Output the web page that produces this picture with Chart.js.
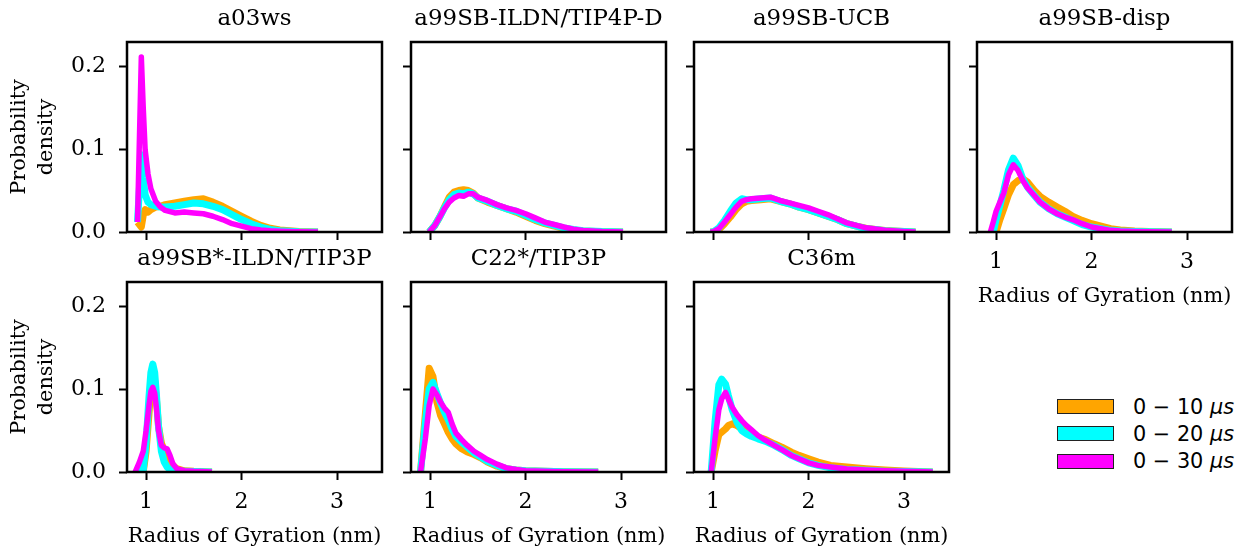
<!DOCTYPE html>
<html>
<head>
<meta charset="utf-8">
<script src="https://cdn.jsdelivr.net/npm/chart.js@4.4.1/dist/chart.umd.min.js"></script>
<style>
  html, body { margin: 0; padding: 0; background: #fff; overflow: hidden; }
  #fig { position: relative; width: 1241px; height: 550px; }
  #fig canvas { position: absolute; }
  #legend { position: absolute; left: 1057px; top: 393px; font-family: 'DejaVu Sans', sans-serif; font-size: 20.8px; color: #000; }
  #legend .row { display: flex; align-items: center; height: 27.3px; }
  #legend .sw { width: 55px; height: 13px; border: 1px solid #222; margin-right: 19px; }
</style>
</head>
<body>
<div id="fig">
  <canvas id="p0"></canvas>
  <canvas id="p1"></canvas>
  <canvas id="p2"></canvas>
  <canvas id="p3"></canvas>
  <canvas id="p4"></canvas>
  <canvas id="p5"></canvas>
  <canvas id="p6"></canvas>
  <div id="legend">
    <div class="row"><div class="sw" style="background:#ffa500"></div><span>0 − 10 <i>μs</i></span></div>
    <div class="row"><div class="sw" style="background:#00ffff"></div><span>0 − 20 <i>μs</i></span></div>
    <div class="row"><div class="sw" style="background:#ff00ff"></div><span>0 − 30 <i>μs</i></span></div>
  </div>
</div>
<script>
'use strict';

/* --------------------------------------------------------------------------
   DATA  (radius of gyration in nm, probability density)
   -------------------------------------------------------------------------- */
const seriesLabels = ['0 − 10 μs', '0 − 20 μs', '0 − 30 μs'];
const xTicks = [1, 2, 3];
const yTicks = [0, 0.1, 0.2];

// a03ws
const a03wsX   = [0.91, 0.95, 0.97, 0.99, 1.02, 1.05, 1.1, 1.15, 1.2, 1.3, 1.4, 1.5, 1.6, 1.7, 1.8, 1.9, 2.0, 2.1, 2.2, 2.3, 2.4, 2.6, 2.8];
const a03ws10  = [0.012, 0.006, 0.020, 0.027, 0.024, 0.027, 0.030, 0.031, 0.033, 0.035, 0.037, 0.039, 0.040, 0.036, 0.031, 0.025, 0.019, 0.013, 0.008, 0.0045, 0.0025, 0.0006, 0];
const a03ws20  = [0.012, 0.093, 0.065, 0.045, 0.036, 0.033, 0.031, 0.030, 0.030, 0.031, 0.033, 0.035, 0.034, 0.031, 0.027, 0.021, 0.015, 0.010, 0.006, 0.003, 0.0015, 0.0003, 0];
const a03ws30  = [0.012, 0.211, 0.150, 0.099, 0.070, 0.052, 0.037, 0.030, 0.026, 0.023, 0.024, 0.023, 0.022, 0.019, 0.015, 0.010, 0.007, 0.004, 0.0025, 0.0015, 0.001, 0.0003, 0];

// a99SB-ILDN/TIP4P-D
const tip4pdX  = [0.99, 1.05, 1.1, 1.15, 1.2, 1.25, 1.3, 1.35, 1.4, 1.45, 1.5, 1.6, 1.7, 1.8, 1.9, 2.0, 2.1, 2.2, 2.3, 2.4, 2.5, 2.6, 2.8, 3.02];
const tip4pd10 = [0, 0.008, 0.018, 0.030, 0.042, 0.048, 0.050, 0.051, 0.050, 0.047, 0.041, 0.036, 0.032, 0.028, 0.024, 0.019, 0.014, 0.010, 0.007, 0.0045, 0.0025, 0.0012, 0.0004, 0];
const tip4pd20 = [0, 0.008, 0.018, 0.029, 0.039, 0.045, 0.047, 0.046, 0.048, 0.046, 0.041, 0.037, 0.032, 0.028, 0.025, 0.020, 0.015, 0.011, 0.008, 0.005, 0.003, 0.0015, 0.0005, 0];
const tip4pd30 = [0, 0.008, 0.018, 0.028, 0.036, 0.041, 0.044, 0.043, 0.046, 0.046, 0.042, 0.038, 0.033, 0.029, 0.026, 0.022, 0.017, 0.012, 0.009, 0.006, 0.0035, 0.0018, 0.0006, 0];

// a99SB-UCB
const ucbX     = [0.97, 1.0, 1.06, 1.12, 1.18, 1.24, 1.3, 1.35, 1.4, 1.5, 1.6, 1.7, 1.8, 1.9, 2.0, 2.1, 2.2, 2.3, 2.4, 2.5, 2.6, 2.7, 2.8, 3.0, 3.12];
const ucb10    = [0, 0, 0.003, 0.010, 0.018, 0.027, 0.034, 0.037, 0.038, 0.039, 0.040, 0.037, 0.034, 0.030, 0.027, 0.023, 0.019, 0.015, 0.010, 0.007, 0.0045, 0.003, 0.0018, 0.0006, 0];
const ucb20    = [0, 0, 0.005, 0.014, 0.025, 0.035, 0.040, 0.039, 0.039, 0.040, 0.041, 0.037, 0.034, 0.030, 0.027, 0.023, 0.019, 0.015, 0.010, 0.007, 0.004, 0.003, 0.0015, 0.0005, 0];
const ucb30    = [0, 0, 0.004, 0.012, 0.021, 0.030, 0.037, 0.039, 0.040, 0.041, 0.042, 0.038, 0.035, 0.032, 0.029, 0.025, 0.021, 0.016, 0.011, 0.008, 0.005, 0.0035, 0.002, 0.0007, 0];

// a99SB-disp
const dispX    = [0.94, 0.97, 1.0, 1.04, 1.08, 1.13, 1.18, 1.23, 1.28, 1.33, 1.4, 1.46, 1.55, 1.64, 1.72, 1.8, 1.9, 2.0, 2.1, 2.2, 2.3, 2.45, 2.6, 2.84];
const disp10   = [0, 0, 0, 0.015, 0.028, 0.045, 0.057, 0.062, 0.064, 0.060, 0.050, 0.043, 0.036, 0.030, 0.025, 0.019, 0.014, 0.010, 0.007, 0.004, 0.0025, 0.0012, 0.0005, 0];
const disp20   = [0, 0, 0.015, 0.032, 0.050, 0.075, 0.089, 0.080, 0.064, 0.054, 0.044, 0.036, 0.028, 0.022, 0.018, 0.014, 0.009, 0.006, 0.004, 0.002, 0.0012, 0.0006, 0.0002, 0];
const disp30   = [0, 0.012, 0.025, 0.036, 0.047, 0.069, 0.081, 0.074, 0.062, 0.053, 0.044, 0.036, 0.028, 0.022, 0.018, 0.015, 0.010, 0.006, 0.004, 0.002, 0.0012, 0.0006, 0.0003, 0];

// a99SB*-ILDN/TIP3P
const tip3pX   = [0.885, 0.93, 0.97, 1.0, 1.03, 1.05, 1.07, 1.09, 1.11, 1.13, 1.16, 1.19, 1.22, 1.25, 1.28, 1.32, 1.4, 1.5, 1.69];
const tip3p10  = [0, 0, 0, 0.025, 0.070, 0.100, 0.118, 0.110, 0.085, 0.055, 0.035, 0.026, 0.020, 0.013, 0.008, 0.004, 0.0015, 0.0008, 0];
const tip3p20  = [0, 0, 0.002, 0.035, 0.090, 0.120, 0.130, 0.120, 0.090, 0.055, 0.025, 0.012, 0.006, 0.003, 0.0015, 0.001, 0.0008, 0.0005, 0];
const tip3p30  = [0, 0.012, 0.025, 0.050, 0.080, 0.097, 0.102, 0.095, 0.075, 0.050, 0.032, 0.029, 0.028, 0.020, 0.010, 0.004, 0.0015, 0.0008, 0];

// C22*/TIP3P
const c22X     = [0.90, 0.95, 0.99, 1.03, 1.07, 1.11, 1.15, 1.19, 1.23, 1.27, 1.33, 1.39, 1.46, 1.53, 1.6, 1.7, 1.8, 1.9, 2.0, 2.2, 2.4, 2.76];
const c22_10   = [0, 0.070, 0.125, 0.115, 0.085, 0.068, 0.058, 0.048, 0.040, 0.034, 0.028, 0.024, 0.021, 0.017, 0.012, 0.007, 0.004, 0.0025, 0.0015, 0.0008, 0.0004, 0];
const c22_20   = [0, 0.060, 0.100, 0.108, 0.095, 0.083, 0.072, 0.063, 0.052, 0.043, 0.036, 0.030, 0.023, 0.018, 0.013, 0.008, 0.004, 0.0025, 0.0015, 0.0008, 0.0004, 0];
const c22_30   = [0, 0.040, 0.080, 0.100, 0.093, 0.084, 0.077, 0.072, 0.058, 0.047, 0.039, 0.032, 0.025, 0.020, 0.015, 0.0095, 0.005, 0.003, 0.0015, 0.0008, 0.0004, 0];

// C36m
const c36X     = [0.98, 1.02, 1.06, 1.09, 1.13, 1.16, 1.2, 1.25, 1.3, 1.35, 1.4, 1.47, 1.55, 1.64, 1.72, 1.82, 1.9, 2.0, 2.1, 2.23, 2.4, 2.6, 2.8, 3.0, 3.3];
const c36_10   = [0, 0.025, 0.045, 0.048, 0.052, 0.056, 0.058, 0.056, 0.052, 0.049, 0.045, 0.042, 0.039, 0.034, 0.030, 0.024, 0.020, 0.016, 0.012, 0.008, 0.006, 0.004, 0.0025, 0.0012, 0];
const c36_20   = [0, 0.060, 0.105, 0.112, 0.106, 0.092, 0.075, 0.060, 0.050, 0.046, 0.043, 0.040, 0.037, 0.032, 0.027, 0.020, 0.016, 0.011, 0.008, 0.005, 0.003, 0.002, 0.001, 0.0005, 0];
const c36_30   = [0, 0.040, 0.075, 0.088, 0.096, 0.088, 0.078, 0.069, 0.062, 0.056, 0.051, 0.044, 0.038, 0.032, 0.027, 0.020, 0.016, 0.011, 0.008, 0.006, 0.0035, 0.0025, 0.0015, 0.001, 0];

/* --------------------------------------------------------------------------
   LAYOUT / STYLE
   -------------------------------------------------------------------------- */
const SERIF = "'DejaVu Serif', serif";
const COLORS = ['#ffa500', '#00ffff', '#ff00ff'];
const WIDTHS = [7, 7, 5.5];
const COL_LEFT = [127, 411, 694, 977];
const ROW_TOP = [42, 282];
const AREA_W = 255, AREA_H = 190;
const Y_AXIS_W = 127, X_AXIS_H = 85, PAD_RIGHT = 10, TITLE_H = 42;

const framePlugin = {
    id: 'frame',
    afterDatasetsDraw(chart) {
        const { ctx, chartArea: a } = chart;
        ctx.save();
        ctx.lineWidth = 2.5;
        ctx.strokeStyle = '#000';
        ctx.strokeRect(a.left, a.top, a.right - a.left, a.bottom - a.top);
        ctx.restore();
    },
};

function toPoints(xs, ys) {
    return xs.map((x, i) => ({ x, y: ys[i] }));
}

function renderPanel(canvasId, col, row, title, xs, seriesList) {
    const showY = col === 0;
    const showX = row === 1 || col === 3;
    const canvas = document.getElementById(canvasId);
    canvas.width = Y_AXIS_W + AREA_W + PAD_RIGHT;
    canvas.height = TITLE_H + AREA_H + X_AXIS_H;

    const chart = new Chart(canvas.getContext('2d'), {
        type: 'line',
        data: {
            datasets: seriesList.map((ys, i) => ({
                label: seriesLabels[i],
                data: toPoints(xs, ys),
                borderColor: COLORS[i],
                backgroundColor: COLORS[i],
                borderWidth: WIDTHS[i],
                pointRadius: 0,
                tension: 0,
                borderJoinStyle: 'round',
                order: 3 - i,
            })),
        },
        options: {
            responsive: false,
            animation: false,
            layout: { padding: { left: 0, right: PAD_RIGHT, top: 0, bottom: 0 } },
            plugins: {
                legend: { display: false },
                tooltip: { enabled: false },
                title: {
                    display: true, text: title, color: '#000', fullSize: false,
                    font: { family: SERIF, size: 22.9, weight: 'normal', lineHeight: 1.2 },
                    padding: { top: 5, bottom: TITLE_H - 5 - 22.9 * 1.2 },
                },
            },
            scales: {
                x: {
                    type: 'linear', min: 0.80, max: 3.47,
                    afterBuildTicks: s => { s.ticks = xTicks.map(v => ({ value: v })); },
                    afterFit: s => { s.height = X_AXIS_H; },
                    border: { display: false },
                    grid: { drawOnChartArea: false, drawTicks: true, tickLength: 8, tickWidth: 2, tickColor: '#000' },
                    ticks: { display: showX, color: '#000', padding: 9.5, maxRotation: 0,
                             font: { family: SERIF, size: 22, lineHeight: 1.2 } },
                    title: { display: showX, text: 'Radius of Gyration (nm)', color: '#000',
                             font: { family: SERIF, size: 20.8, lineHeight: 1.2 },
                             padding: { top: 0, bottom: 7.5 } },
                },
                y: {
                    min: 0, max: 0.229,
                    afterBuildTicks: s => { s.ticks = yTicks.map(v => ({ value: v })); },
                    afterFit: s => { s.width = Y_AXIS_W; },
                    border: { display: false },
                    grid: { drawOnChartArea: false, drawTicks: true, tickLength: 8, tickWidth: 2, tickColor: '#000' },
                    ticks: { display: showY, color: '#000', padding: 13, callback: v => v.toFixed(1),
                             font: { family: SERIF, size: 22, lineHeight: 1.2 } },
                    title: { display: showY, text: ['Probability', 'density'], color: '#000',
                             font: { family: SERIF, size: 20.8, lineHeight: 1.3 },
                             padding: { top: 6, bottom: 0 } },
                },
            },
        },
        plugins: [framePlugin],
    });

    // place the canvas so that the plot area lands on its grid cell
    const a = chart.chartArea;
    canvas.style.left = (COL_LEFT[col] - a.left) + 'px';
    canvas.style.top = (ROW_TOP[row] - a.top) + 'px';
    return chart;
}

renderPanel('p0', 0, 0, 'a03ws', a03wsX, [a03ws10, a03ws20, a03ws30]);
renderPanel('p1', 1, 0, 'a99SB-ILDN/TIP4P-D', tip4pdX, [tip4pd10, tip4pd20, tip4pd30]);
renderPanel('p2', 2, 0, 'a99SB-UCB', ucbX, [ucb10, ucb20, ucb30]);
renderPanel('p3', 3, 0, 'a99SB-disp', dispX, [disp10, disp20, disp30]);
renderPanel('p4', 0, 1, 'a99SB*-ILDN/TIP3P', tip3pX, [tip3p10, tip3p20, tip3p30]);
renderPanel('p5', 1, 1, 'C22*/TIP3P', c22X, [c22_10, c22_20, c22_30]);
renderPanel('p6', 2, 1, 'C36m', c36X, [c36_10, c36_20, c36_30]);
</script>
</body>
</html>
